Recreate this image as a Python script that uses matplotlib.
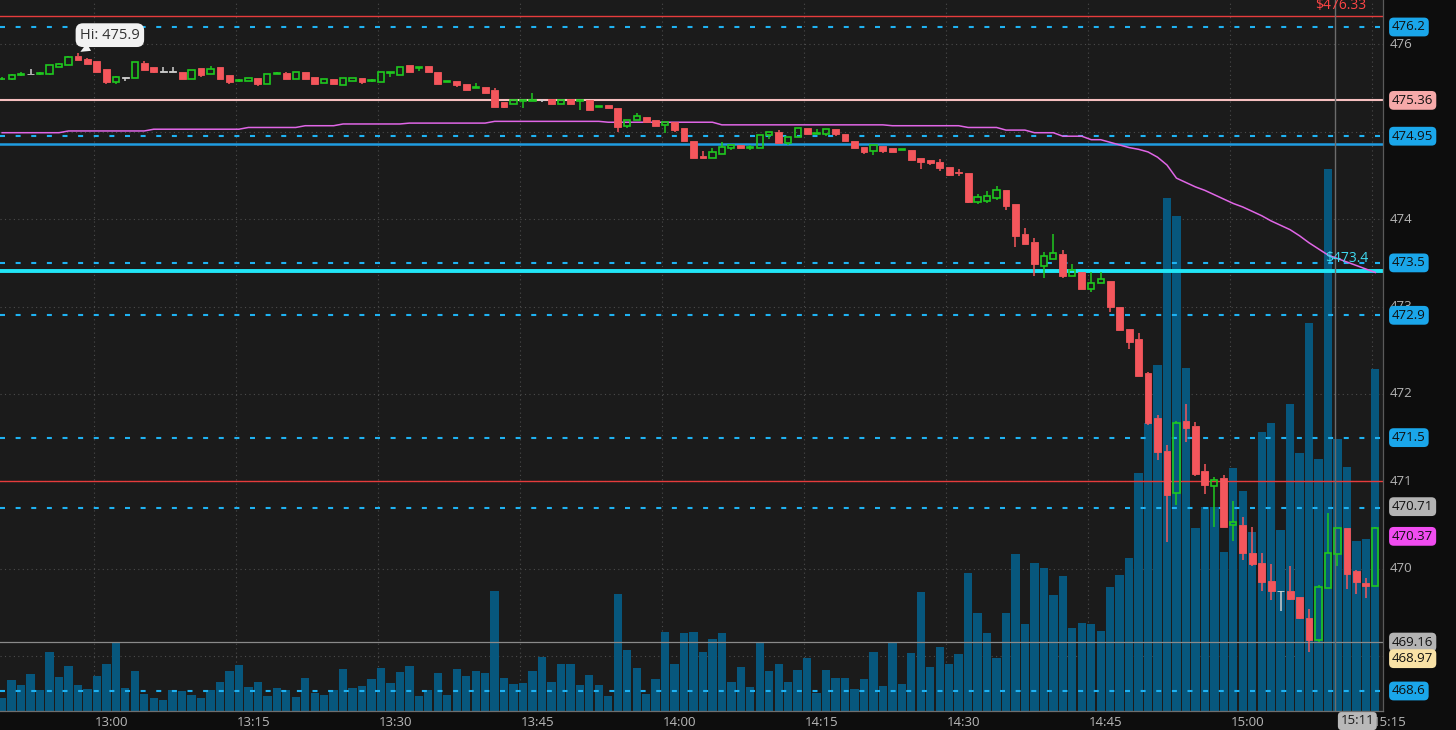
import numpy as np
import matplotlib
import matplotlib.pyplot as plt
from matplotlib.transforms import blended_transform_factory

matplotlib.use("Agg")
plt.rcParams["font.family"] = ["Open Sans", "DejaVu Sans"]

# canvas in pixels
W, H = 1456, 730
PLOT_R = 1383   # right edge of the price pane
PLOT_B = 711    # bottom edge of the price pane

# 1-minute candles (left to right)
opens = [475.60, 475.60, 475.65, 475.66, 475.66, 475.66, 475.74, 475.76, 475.87, 475.83,
         475.81, 475.72, 475.57, 475.62, 475.62, 475.79, 475.74, 475.69, 475.69, 475.69,
         475.61, 475.73, 475.66, 475.74, 475.65, 475.58, 475.58, 475.62, 475.55, 475.66,
         475.67, 475.60, 475.69, 475.63, 475.56, 475.61, 475.54, 475.58, 475.62, 475.58,
         475.57, 475.67, 475.65, 475.76, 475.73, 475.75, 475.69, 475.57, 475.58, 475.55,
         475.50, 475.51, 475.48, 475.34, 475.32, 475.35, 475.35, 475.36, 475.38, 475.32,
         475.38, 475.35, 475.37, 475.29, 475.31, 475.27, 475.07, 475.13, 475.17, 475.14,
         475.08, 475.11, 475.04, 474.89, 474.72, 474.70, 474.75, 474.81, 474.85, 474.82,
         474.81, 474.96, 475.00, 474.87, 474.94, 475.04, 474.98, 474.98, 475.03, 474.97,
         474.90, 474.83, 474.78, 474.84, 474.82, 474.79, 474.79, 474.70, 474.68, 474.65,
         474.60, 474.54, 474.53, 474.20, 474.21, 474.24, 474.34, 474.17, 473.83, 473.74,
         473.46, 473.55, 473.60, 473.35, 473.40, 473.20, 473.27, 473.29, 472.99, 472.74,
         472.63, 472.24, 471.72, 471.35, 470.87, 471.69, 471.63, 471.12, 470.95, 471.04,
         470.50, 470.50, 470.18, 470.07, 469.86, 469.74, 469.75, 469.68, 469.44, 469.18,
         469.78, 470.17, 470.47, 469.97, 469.84, 469.80]
highs = [475.63, 475.66, 475.68, 475.72, 475.69, 475.77, 475.79, 475.87, 475.90, 475.84,
         475.81, 475.72, 475.64, 475.62, 475.80, 475.81, 475.74, 475.74, 475.74, 475.69,
         475.71, 475.73, 475.75, 475.74, 475.65, 475.60, 475.62, 475.62, 475.66, 475.69,
         475.68, 475.68, 475.69, 475.63, 475.60, 475.61, 475.62, 475.62, 475.62, 475.60,
         475.68, 475.68, 475.74, 475.77, 475.74, 475.75, 475.69, 475.58, 475.58, 475.55,
         475.56, 475.51, 475.50, 475.34, 475.37, 475.36, 475.44, 475.38, 475.38, 475.36,
         475.38, 475.36, 475.37, 475.30, 475.31, 475.27, 475.13, 475.22, 475.17, 475.14,
         475.11, 475.11, 475.04, 474.89, 474.78, 474.81, 474.88, 474.85, 474.85, 474.85,
         474.96, 475.00, 475.02, 474.94, 475.04, 475.04, 475.03, 475.03, 475.03, 474.97,
         474.90, 474.83, 474.85, 474.84, 474.82, 474.80, 474.79, 474.70, 474.68, 474.69,
         474.60, 474.58, 474.53, 474.29, 474.32, 474.38, 474.34, 474.17, 473.90, 473.79,
         473.62, 473.83, 473.65, 473.49, 473.40, 473.40, 473.40, 473.29, 472.99, 472.74,
         472.70, 472.25, 471.76, 471.42, 471.69, 471.89, 471.68, 471.20, 471.05, 471.07,
         470.77, 470.59, 470.48, 470.18, 470.05, 469.74, 470.03, 469.68, 469.54, 469.81,
         470.64, 470.47, 470.47, 469.99, 469.89, 470.48]
lows = [475.59, 475.59, 475.64, 475.66, 475.65, 475.65, 475.74, 475.76, 475.82, 475.78,
        475.69, 475.55, 475.55, 475.58, 475.62, 475.71, 475.67, 475.69, 475.69, 475.61,
        475.61, 475.63, 475.66, 475.61, 475.55, 475.57, 475.58, 475.53, 475.55, 475.66,
        475.60, 475.60, 475.61, 475.55, 475.56, 475.55, 475.54, 475.58, 475.55, 475.57,
        475.57, 475.63, 475.65, 475.69, 475.70, 475.69, 475.55, 475.57, 475.51, 475.48,
        475.50, 475.44, 475.28, 475.27, 475.32, 475.27, 475.35, 475.34, 475.32, 475.32,
        475.32, 475.25, 475.25, 475.29, 475.27, 475.00, 475.04, 475.13, 475.11, 475.07,
        474.99, 475.00, 474.89, 474.70, 474.70, 474.70, 474.75, 474.79, 474.81, 474.79,
        474.81, 474.92, 474.87, 474.85, 474.94, 474.97, 474.98, 474.95, 474.95, 474.89,
        474.82, 474.75, 474.73, 474.76, 474.77, 474.79, 474.68, 474.57, 474.62, 474.55,
        474.49, 474.50, 474.18, 474.17, 474.18, 474.22, 474.11, 473.68, 473.72, 473.35,
        473.33, 473.55, 473.33, 473.35, 473.20, 473.17, 473.27, 472.94, 472.73, 472.51,
        472.21, 471.65, 471.24, 470.30, 470.73, 471.45, 471.06, 470.85, 470.48, 470.48,
        470.32, 470.10, 470.03, 469.75, 469.64, 469.52, 469.64, 469.42, 469.05, 469.16,
        469.78, 470.03, 469.77, 469.71, 469.66, 469.80]
closes = [475.61, 475.65, 475.66, 475.66, 475.67, 475.76, 475.78, 475.86, 475.82, 475.78,
          475.69, 475.57, 475.63, 475.62, 475.80, 475.71, 475.68, 475.69, 475.69, 475.61,
          475.71, 475.65, 475.72, 475.61, 475.57, 475.59, 475.62, 475.55, 475.66, 475.67,
          475.60, 475.68, 475.61, 475.55, 475.60, 475.55, 475.62, 475.62, 475.57, 475.59,
          475.68, 475.68, 475.74, 475.69, 475.74, 475.69, 475.55, 475.58, 475.54, 475.48,
          475.51, 475.44, 475.29, 475.29, 475.37, 475.36, 475.36, 475.36, 475.32, 475.36,
          475.32, 475.36, 475.25, 475.30, 475.27, 475.06, 475.13, 475.18, 475.11, 475.07,
          475.11, 475.02, 474.89, 474.70, 474.70, 474.77, 474.83, 474.85, 474.81, 474.83,
          474.96, 475.00, 474.87, 474.94, 475.04, 474.97, 474.99, 475.03, 474.97, 474.89,
          474.82, 474.77, 474.85, 474.78, 474.77, 474.80, 474.68, 474.65, 474.64, 474.59,
          474.51, 474.53, 474.20, 474.25, 474.26, 474.34, 474.15, 473.81, 473.72, 473.49,
          473.58, 473.61, 473.35, 473.42, 473.20, 473.27, 473.31, 472.99, 472.73, 472.60,
          472.21, 471.67, 471.33, 470.84, 471.67, 471.61, 471.08, 470.96, 471.02, 470.48,
          470.53, 470.18, 470.05, 469.85, 469.75, 469.74, 469.65, 469.43, 469.18, 469.79,
          470.18, 470.47, 469.94, 469.85, 469.80, 470.46]
# volume per bar (relative units, as drawn)
volume = [13, 31, 26, 37, 21, 59, 34, 45, 26, 22,
          35, 47, 69, 23, 40, 17, 13, 11, 21, 20,
          16, 13, 21, 29, 40, 46, 24, 29, 15, 23,
          21, 14, 33, 18, 16, 21, 42, 23, 25, 32,
          43, 28, 39, 45, 15, 21, 38, 16, 42, 35,
          40, 38, 120, 33, 27, 28, 40, 54, 29, 47,
          47, 26, 36, 26, 15, 117, 61, 43, 17, 32,
          79, 47, 78, 79, 59, 72, 78, 29, 44, 24,
          69, 40, 47, 29, 41, 53, 18, 41, 33, 33,
          22, 32, 59, 25, 69, 27, 58, 119, 44, 64,
          47, 57, 138, 98, 78, 53, 98, 157, 87, 148,
          143, 116, 135, 83, 88, 87, 80, 124, 136, 153,
          238, 288, 346, 513, 495, 343, 183, 204, 204, 159,
          243, 220, 179, 279, 288, 181, 307, 258, 388, 252,
          542, 272, 244, 170, 172, 342]
# magenta average line, one value per bar
vwap = [474.99, 474.99, 474.99, 474.99, 474.99, 474.99, 474.99, 475.01, 475.01, 475.01,
        475.01, 475.01, 475.01, 475.01, 475.01, 475.01, 475.03, 475.03, 475.03, 475.03,
        475.03, 475.03, 475.03, 475.03, 475.03, 475.03, 475.05, 475.05, 475.05, 475.05,
        475.05, 475.05, 475.07, 475.07, 475.07, 475.07, 475.09, 475.09, 475.09, 475.09,
        475.09, 475.09, 475.09, 475.10, 475.10, 475.10, 475.10, 475.10, 475.10, 475.10,
        475.10, 475.10, 475.12, 475.12, 475.12, 475.12, 475.12, 475.12, 475.12, 475.12,
        475.12, 475.12, 475.12, 475.12, 475.11, 475.11, 475.11, 475.11, 475.11, 475.11,
        475.11, 475.11, 475.11, 475.11, 475.11, 475.11, 475.08, 475.08, 475.08, 475.08,
        475.08, 475.08, 475.08, 475.08, 475.08, 475.08, 475.08, 475.08, 475.08, 475.08,
        475.08, 475.08, 475.08, 475.08, 475.07, 475.07, 475.07, 475.07, 475.07, 475.07,
        475.07, 475.07, 475.05, 475.05, 475.05, 475.05, 475.02, 475.02, 475.02, 474.99,
        474.99, 474.99, 474.95, 474.95, 474.95, 474.91, 474.91, 474.88, 474.85, 474.82,
        474.80, 474.77, 474.71, 474.62, 474.47, 474.42, 474.37, 474.33, 474.28, 474.23,
        474.18, 474.14, 474.09, 474.04, 473.98, 473.93, 473.88, 473.81, 473.73, 473.66,
        473.59, 473.55, 473.51, 473.47, 473.43, 473.39]

# time axis
time_labels = ["13:00", "13:15", "13:30", "13:45", "14:00", "14:15", "14:30", "14:45", "15:00", "15:15"]
grid_13h = 9.7          # bar position of the 13:00 grid line
cursor_time = "15:11"

# horizontal levels
dashed_levels = [476.2, 474.95, 473.5, 472.9, 471.5, 470.7, 468.6]
red_levels = [476.33, 471.0]
pink_level = 475.36
blue_level = 474.86
cyan_level = 473.41
grey_level = 469.16

# price scale labels that are not covered by a tag
price_ticks = [470, 471, 472, 473, 474, 476]
tag_values = [476.2, 475.36, 474.95, 473.5, 472.9, 471.5, 470.71, 470.37, 469.16, 468.97, 468.6]
tag_colors = ["#1aa6ea", "#f6a9a9", "#1aa6ea", "#1aa6ea", "#1aa6ea", "#1aa6ea",
              "#b3b3b3", "#f04cf0", "#b3b3b3", "#f9e2a6", "#1aa6ea"]

BG = "#1b1b1b"
UP = "#1fc81f"
DOWN = "#f4565c"
FLAT = "#cfcfcf"

n = len(opens)
x = np.arange(n)
o, h, l, c = map(np.array, (opens, highs, lows, closes))

fig = plt.figure(figsize=(W / 100, H / 100), dpi=100, facecolor="#0d0d0d")
rect = [0, (H - PLOT_B) / H, PLOT_R / W, PLOT_B / H]
ax_bg = fig.add_axes(rect, facecolor=BG)
axv = fig.add_axes(rect, facecolor="none", sharex=ax_bg)
ax = fig.add_axes(rect, facecolor="none", sharex=ax_bg)

ylo, yhi = 468.371, 476.509
for a in (ax_bg, ax):
    a.set_ylim(ylo, yhi)
ax_bg.set_xlim(-0.23, 145.81)
ax_bg.tick_params(left=False, bottom=False, labelleft=False, labelbottom=False)
for s in ax_bg.spines.values():
    s.set_visible(False)
ax.set_axis_off()
axv.set_axis_off()

# dotted grid
grid_pos = grid_13h + 15 * np.arange(len(time_labels))
for p in range(469, 477):
    ax_bg.axhline(p, color="#4b4b4b", lw=0.8, ls=(0, (1, 3)))
for gx in grid_pos:
    ax_bg.axvline(gx, color="#4b4b4b", lw=0.8, ls=(0, (1, 3)))

# volume
axv.bar(x, volume, width=0.88, color="#07577d", linewidth=0)
axv.set_ylim(0, PLOT_B)

# levels
for lv in dashed_levels:
    ax.axhline(lv, color="#1fb2f2", lw=1.5, dashes=(2.4, 5.1), zorder=3)
for lv in red_levels:
    ax.axhline(lv, color="#e63c3c", lw=1.0, zorder=3)
ax.axhline(pink_level, color="#f7c0c0", lw=1.5, zorder=3)
ax.axhline(blue_level, color="#1f9de2", lw=1.8, zorder=3)
ax.axhline(cyan_level, color="#22e6f6", lw=2.8, zorder=3)
ax.axhline(grey_level, color="#8a8a8a", lw=0.9, zorder=3)

# cursor line
hh, mm = map(int, cursor_time.split(":"))
cursor_x = grid_13h + (hh - 13) * 60 + mm
ax.axvline(cursor_x, color="#6c6c6c", lw=1.0, zorder=3)

# average line
ax.plot(x, vwap, color="#e066e6", lw=1.1, zorder=4)

# candles
col = np.where(c > o, UP, np.where(c < o, DOWN, FLAT))
top = np.maximum(o, c)
bot = np.minimum(o, c)
ax.vlines(x, top, h, colors=col, lw=1.1, zorder=5)
ax.vlines(x, l, bot, colors=col, lw=1.1, zorder=5)
body = np.maximum(top - bot, 0.006)
for i in range(n):
    if c[i] > o[i]:
        ax.bar(x[i], body[i], bottom=bot[i], width=0.66, facecolor="none",
               edgecolor=UP, linewidth=1.2, zorder=6)
    else:
        ax.bar(x[i], body[i], bottom=bot[i], width=0.72, facecolor=col[i],
               edgecolor=col[i], linewidth=0.6, zorder=6)

# high callout
ih = int(np.argmax(h))
ax.annotate(f"Hi: {h[ih]:.1f}", xy=(x[ih], h[ih]), xytext=(23, 13),
            textcoords="offset points", ha="center", va="center",
            fontsize=10.5, color="#333333", zorder=10,
            bbox=dict(boxstyle="round,pad=0.3,rounding_size=0.5", fc="#f2f2f2", ec="none"),
            arrowprops=dict(arrowstyle="wedge,tail_width=0.6,shrink_factor=0.5",
                            fc="#f2f2f2", ec="none", shrinkA=0, shrinkB=2))

# level captions inside the pane
tr = blended_transform_factory(ax.transAxes, ax.transData)
ax.text(1366 / PLOT_R, red_levels[0] + 0.12, f"${red_levels[0]:.2f}", transform=tr,
        ha="right", va="center", fontsize=10, color="#ff4646", zorder=9, clip_on=False)
ax.text(1368 / PLOT_R, cyan_level + 0.14, f"${cyan_level:.1f}", transform=tr,
        ha="right", va="center", fontsize=10, color="#3fd9f0", zorder=9)

# right price axis
for p in price_ticks:
    ax.text(1390 / PLOT_R, p, f"{p}", transform=tr, ha="left", va="center",
            fontsize=9.5, color="#b4b4b4", clip_on=False)
for v, fc in zip(tag_values, tag_colors):
    ax.text(1392 / PLOT_R, v, f"{v:g}", transform=tr, ha="left", va="center",
            fontsize=9.5, color="#101010", clip_on=False, zorder=12,
            bbox=dict(boxstyle="round,pad=0.22,rounding_size=0.35", fc=fc, ec="none"))

# pane borders
fig.add_artist(plt.Line2D([PLOT_R / W, PLOT_R / W], [(H - PLOT_B) / H, 1],
                          transform=fig.transFigure, color="#5a5a5a", lw=0.9))
fig.add_artist(plt.Line2D([0, PLOT_R / W], [(H - PLOT_B) / H] * 2,
                          transform=fig.transFigure, color="#6e6e6e", lw=0.9))

# time labels
trx = blended_transform_factory(ax.transData, fig.transFigure)
for gx, lab in zip(grid_pos, time_labels):
    ax.text(gx + 1.8, (H - 722) / H, lab, transform=trx, ha="center", va="center",
            fontsize=9.5, color="#b8b8b8", clip_on=False)
ax.text(cursor_x + 2.4, (H - 721) / H, cursor_time, transform=trx, ha="center",
        va="center", fontsize=9.5, color="#1a1a1a", clip_on=False, zorder=12,
        bbox=dict(boxstyle="round,pad=0.2,rounding_size=0.3", fc="#b8b8b8", ec="none"))

fig.savefig("out.png", dpi=100, facecolor=fig.get_facecolor())
